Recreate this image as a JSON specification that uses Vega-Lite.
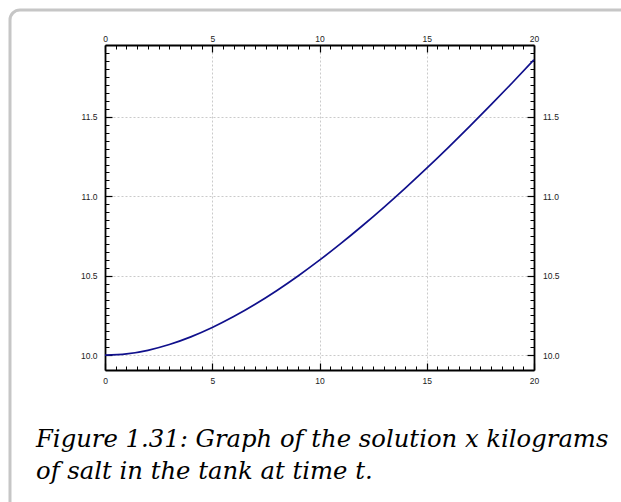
{
  "$schema": "https://vega.github.io/schema/vega-lite/v6.json",
  "width": 640,
  "height": 520,
  "autosize": {"type": "none"},
  "padding": {"left": 10, "top": 10, "right": -29, "bottom": -28},
  "background": "white",
  "title": {
    "text": ["Figure 1.31: Graph of the solution x kilograms", "of salt in the tank at time t."],
    "orient": "bottom",
    "anchor": "start",
    "frame": "group",
    "offset": -83.5,
    "dx": 26,
    "baseline": "alphabetic",
    "font": "DejaVu Serif",
    "fontStyle": "italic",
    "fontWeight": "normal",
    "fontSize": 24.3,
    "lineHeight": 32,
    "color": "black"
  },
  "data": {
    "values": [
      {"t": 0, "x": 10.0},
      {"t": 1, "x": 10.00802},
      {"t": 2, "x": 10.030921},
      {"t": 3, "x": 10.067136},
      {"t": 4, "x": 10.115305},
      {"t": 5, "x": 10.17424},
      {"t": 6, "x": 10.242903},
      {"t": 7, "x": 10.32038},
      {"t": 8, "x": 10.405862},
      {"t": 9, "x": 10.498641},
      {"t": 10, "x": 10.598076},
      {"t": 11, "x": 10.703609},
      {"t": 12, "x": 10.814728},
      {"t": 13, "x": 10.930984},
      {"t": 14, "x": 11.051972},
      {"t": 15, "x": 11.177324},
      {"t": 16, "x": 11.306712},
      {"t": 17, "x": 11.439836},
      {"t": 18, "x": 11.576424},
      {"t": 19, "x": 11.716232},
      {"t": 20, "x": 11.859032}
    ]
  },
  "resolve": {"axis": {"x": "independent", "y": "independent"}},
  "layer": [
    {
      "mark": {"type": "line", "color": "#10108c", "strokeWidth": 1.7, "interpolate": "monotone"},
      "encoding": {
        "x": {"field": "t", "type": "quantitative",
          "scale": {"domain": [0, 20], "range": [95, 524], "nice": false, "zero": false},
          "axis": {"orient": "bottom", "offset": -160, "values": [0, 5, 10, 15, 20], "tickSize": -7, "tickWidth": 1.2, "labelPadding": 13, "grid": false, "domain": true}},
        "y": {"field": "x", "type": "quantitative",
          "scale": {"domain": [9.907, 11.952], "range": [360, 35], "nice": false, "zero": false},
          "axis": {"orient": "left", "offset": -95, "values": [10, 10.5, 11, 11.5], "format": ".1f", "tickSize": -7, "tickWidth": 1.2, "labelPadding": 15, "grid": true, "domain": true}}
      }
    },
    {
      "mark": {"type": "line", "strokeOpacity": 0},
      "encoding": {
        "x": {"field": "t", "type": "quantitative",
          "scale": {"domain": [0, 20], "range": [95, 524], "nice": false, "zero": false},
          "axis": {"orient": "top", "offset": -35, "values": [0, 5, 10, 15, 20], "tickSize": -7, "tickWidth": 1.2, "labelPadding": 9, "grid": true, "domain": true}},
        "y": {"field": "x", "type": "quantitative",
          "scale": {"domain": [9.907, 11.952], "range": [360, 35], "nice": false, "zero": false},
          "axis": {"orient": "right", "offset": -116, "values": [10, 10.5, 11, 11.5], "format": ".1f", "tickSize": -7, "tickWidth": 1.2, "labelPadding": 15.5, "grid": false, "domain": true}}
      }
    },
    {
      "mark": {"type": "line", "strokeOpacity": 0},
      "encoding": {
        "x": {"field": "t", "type": "quantitative",
          "scale": {"domain": [0, 20], "range": [95, 524], "nice": false, "zero": false},
          "axis": {"orient": "bottom", "offset": -160, "values": [0.5, 1, 1.5, 2, 2.5, 3, 3.5, 4, 4.5, 5.5, 6, 6.5, 7, 7.5, 8, 8.5, 9, 9.5, 10.5, 11, 11.5, 12, 12.5, 13, 13.5, 14, 14.5, 15.5, 16, 16.5, 17, 17.5, 18, 18.5, 19, 19.5], "tickSize": -4, "tickWidth": 1, "labels": false, "grid": false, "domain": false}},
        "y": {"field": "x", "type": "quantitative",
          "scale": {"domain": [9.907, 11.952], "range": [360, 35], "nice": false, "zero": false},
          "axis": {"orient": "left", "offset": -95, "values": [10.05, 10.1, 10.15, 10.2, 10.25, 10.3, 10.35, 10.4, 10.45, 10.55, 10.6, 10.65, 10.7, 10.75, 10.8, 10.85, 10.9, 10.95, 11.05, 11.1, 11.15, 11.2, 11.25, 11.3, 11.35, 11.4, 11.45, 11.55, 11.6, 11.65, 11.7, 11.75, 11.8, 11.85, 11.9], "tickSize": -4, "tickWidth": 1, "labels": false, "grid": false, "domain": false}}
      }
    },
    {
      "mark": {"type": "line", "strokeOpacity": 0},
      "encoding": {
        "x": {"field": "t", "type": "quantitative",
          "scale": {"domain": [0, 20], "range": [95, 524], "nice": false, "zero": false},
          "axis": {"orient": "top", "offset": -35, "values": [0.5, 1, 1.5, 2, 2.5, 3, 3.5, 4, 4.5, 5.5, 6, 6.5, 7, 7.5, 8, 8.5, 9, 9.5, 10.5, 11, 11.5, 12, 12.5, 13, 13.5, 14, 14.5, 15.5, 16, 16.5, 17, 17.5, 18, 18.5, 19, 19.5], "tickSize": -4, "tickWidth": 1, "labels": false, "grid": false, "domain": false}},
        "y": {"field": "x", "type": "quantitative",
          "scale": {"domain": [9.907, 11.952], "range": [360, 35], "nice": false, "zero": false},
          "axis": {"orient": "right", "offset": -116, "values": [10.05, 10.1, 10.15, 10.2, 10.25, 10.3, 10.35, 10.4, 10.45, 10.55, 10.6, 10.65, 10.7, 10.75, 10.8, 10.85, 10.9, 10.95, 11.05, 11.1, 11.15, 11.2, 11.25, 11.3, 11.35, 11.4, 11.45, 11.55, 11.6, 11.65, 11.7, 11.75, 11.8, 11.85, 11.9], "tickSize": -4, "tickWidth": 1, "labels": false, "grid": false, "domain": false}}
      }
    }
  ],
  "config": {
    "view": {"stroke": "#c6c6c6", "strokeWidth": 3, "cornerRadius": 10},
    "axis": {
      "title": null,
      "labelFont": "Liberation Sans",
      "labelFontSize": 8.5,
      "labelColor": "#222222",
      "labelFlush": false,
      "labelOverlap": false,
      "labelBound": false,
      "tickColor": "black",
      "domainColor": "black",
      "domainWidth": 1.8,
      "gridColor": "#bdbdbd",
      "gridDash": [2, 2],
      "gridWidth": 0.8
    }
  }
}
